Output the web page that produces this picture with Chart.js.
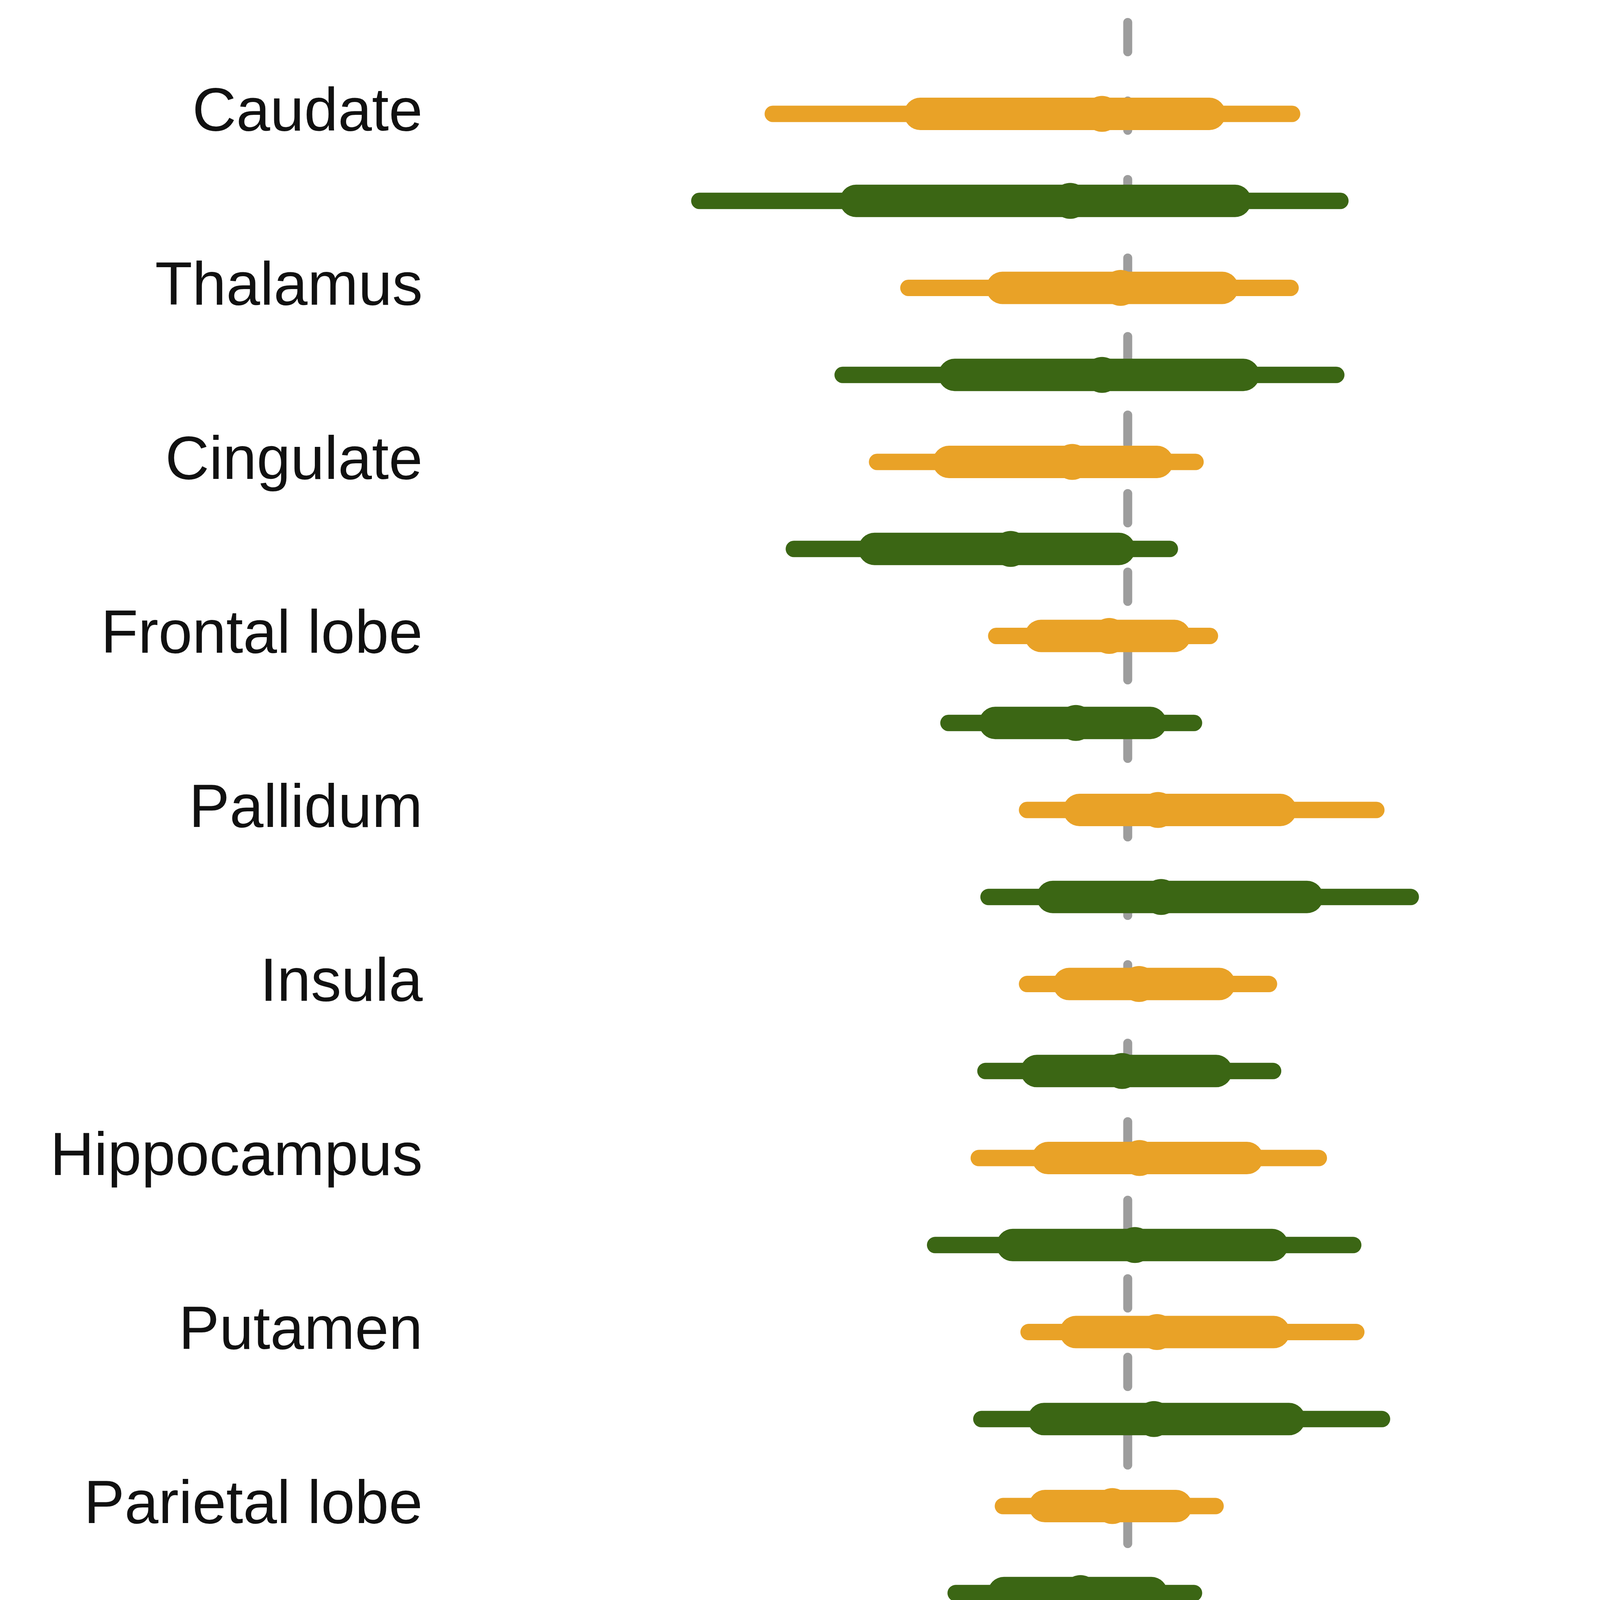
<!DOCTYPE html>
<html lang="en">
<head>
<meta charset="UTF-8">
<title>Regional estimates</title>
<script src="https://cdn.jsdelivr.net/npm/chart.js"></script>
<style>
  html, body { margin: 0; padding: 0; background: #fff; }
  #wrap { width: 4412px; height: 5951px; }
  canvas { display: block; }
</style>
</head>
<body>
<div id="wrap"><canvas id="forest" width="4412" height="5951"></canvas></div>
<script>
const regions = ['Caudate', 'Thalamus', 'Cingulate', 'Frontal lobe', 'Pallidum', 'Insula',
  'Hippocampus', 'Putamen', 'Parietal lobe', 'Temporal lobe', 'Occipital lobe', 'Cerebellum'];
const xTicks = [-0.010, -0.005, 0.000, 0.005, 0.010];

// orange rows (upper row of each region)
const orangeOuterLo = [-0.00691, -0.00427, -0.00488, -0.00256, -0.00196, -0.00196, -0.00290, -0.00193, -0.00243, -0.00148, -0.00232, -0.00180];
const orangeOuterHi = [0.00320, 0.00317, 0.00132, 0.00160, 0.00484, 0.00275, 0.00372, 0.00445, 0.00171, 0.00311, 0.00348, 0.00528];
const orangeInnerLo = [-0.00404, -0.00244, -0.00348, -0.00169, -0.00094, -0.00114, -0.00155, -0.00101, -0.00161, -0.00077, -0.00127, -0.00082];
const orangeInnerHi = [0.00159, 0.00184, 0.00057, 0.00091, 0.00297, 0.00178, 0.00232, 0.00284, 0.00094, 0.00211, 0.00217, 0.00362];
const orangeMid = [-0.00050, -0.00014, -0.00108, -0.00036, 0.00059, 0.00022, 0.00023, 0.00057, -0.00030, 0.00057, 0.00029, 0.00098];

// green rows (lower row of each region)
const greenOuterLo = [-0.00834, -0.00555, -0.00650, -0.00349, -0.00271, -0.00277, -0.00375, -0.00285, -0.00335, -0.00192, -0.00291, -0.00241];
const greenOuterHi = [0.00414, 0.00406, 0.00082, 0.00129, 0.00551, 0.00283, 0.00439, 0.00495, 0.00129, 0.00324, 0.00428, 0.00615];
const greenInnerLo = [-0.00529, -0.00337, -0.00493, -0.00258, -0.00146, -0.00177, -0.00224, -0.00163, -0.00241, -0.00110, -0.00169, -0.00114];
const greenInnerHi = [0.00209, 0.00225, -0.00017, 0.00044, 0.00349, 0.00172, 0.00281, 0.00314, 0.00046, 0.00217, 0.00276, 0.00435];
const greenMid = [-0.00112, -0.00050, -0.00228, -0.00101, 0.00065, -0.00011, 0.00014, 0.00051, -0.00092, 0.00046, 0.00031, 0.00129];

const ORANGE = '#E9A227';
const GREEN = '#3B6614';
const FAMILY = "'Liberation Sans', Arial, Helvetica, sans-serif";
const LABEL_SIZE = 156;
const NEXT_PANEL = 4206; // labels of the neighbouring panel peek in at the right edge

Chart.defaults.font.family = FAMILY;

// each region gets two rows: orange at 2i, green at 2i+1
function segments(lo, hi, offset) {
  const pts = [];
  lo.forEach((v, i) => {
    const y = i * 2 + offset;
    pts.push({ x: v, y: y }, { x: hi[i], y: y }, { x: null, y: y });
  });
  return pts;
}
function dots(vals, offset) {
  return vals.map((v, i) => ({ x: v, y: i * 2 + offset }));
}
function interval(data, color, width) {
  return {
    type: 'line', data: data, borderColor: color, borderWidth: width,
    borderCapStyle: 'round', borderJoinStyle: 'round', pointRadius: 0,
    pointHoverRadius: 0, fill: false, tension: 0, spanGaps: false
  };
}
function medians(data, color) {
  return {
    type: 'line', data: data, showLine: false, pointRadius: 46, pointHoverRadius: 46,
    pointBackgroundColor: color, pointBorderWidth: 0
  };
}

const zeroLine = {
  id: 'zeroLine',
  beforeDatasetsDraw(chart) {
    const { ctx, chartArea, scales } = chart;
    const px = scales.x.getPixelForValue(0);
    ctx.save();
    ctx.strokeStyle = '#9d9d9d';
    ctx.lineWidth = 23;
    ctx.lineCap = 'round';
    ctx.setLineDash([75, 126]);
    ctx.beginPath();
    ctx.moveTo(px, chartArea.top + 11.5);
    ctx.lineTo(px, chartArea.bottom - 9);
    ctx.stroke();
    ctx.restore();
  }
};

const nextPanelLabels = {
  id: 'nextPanelLabels',
  afterDraw(chart) {
    const y = chart.scales.y;
    const ctx = chart.ctx;
    const right = y.right - y.options.ticks.padding + NEXT_PANEL;
    ctx.save();
    ctx.font = LABEL_SIZE + 'px ' + FAMILY;
    ctx.fillStyle = '#111';
    ctx.textAlign = 'right';
    ctx.textBaseline = 'middle';
    regions.forEach((r, i) => ctx.fillText(r, right, y.getPixelForValue(i * 2)));
    ctx.restore();
  }
};

new Chart(document.getElementById('forest'), {
  type: 'line',
  data: {
    datasets: [
      medians(dots(orangeMid, 0), ORANGE),
      medians(dots(greenMid, 1), GREEN),
      interval(segments(orangeInnerLo, orangeInnerHi, 0), ORANGE, 83),
      interval(segments(greenInnerLo, greenInnerHi, 1), GREEN, 83),
      interval(segments(orangeOuterLo, orangeOuterHi, 0), ORANGE, 42),
      interval(segments(greenOuterLo, greenOuterHi, 1), GREEN, 42)
    ]
  },
  options: {
    responsive: false,
    animation: false,
    events: [],
    layout: { padding: { top: 45, right: 210, bottom: 0, left: 0 } },
    plugins: { legend: { display: false }, tooltip: { enabled: false } },
    scales: {
      x: {
        type: 'linear', min: -0.01, max: 0.01,
        afterBuildTicks: axis => { axis.ticks = xTicks.map(v => ({ value: v })); },
        afterFit: axis => { axis.height = 202; },
        grid: { drawOnChartArea: false, drawTicks: true, tickLength: 69, tickWidth: 30, tickColor: '#000' },
        border: { display: true, color: '#000', width: 30 },
        ticks: {
          padding: -8, color: '#000', maxRotation: 0, autoSkip: false,
          font: { size: 152, lineHeight: 1 },
          callback: v => v.toFixed(3).replace('-', '\u2212')
        }
      },
      y: {
        type: 'linear', reverse: true, min: -1.102, max: 24.5,
        afterBuildTicks: axis => { axis.ticks = regions.map((r, i) => ({ value: i * 2 })); },
        afterFit: axis => { axis.width = 1572; axis.paddingTop = 0; axis.paddingBottom = 0; },
        grid: { display: false, drawTicks: false },
        border: { display: false },
        ticks: {
          padding: 490, color: '#111', autoSkip: false,
          font: { size: LABEL_SIZE },
          callback: (v, i) => regions[i]
        }
      }
    }
  },
  plugins: [zeroLine, nextPanelLabels]
});
</script>
</body>
</html>
